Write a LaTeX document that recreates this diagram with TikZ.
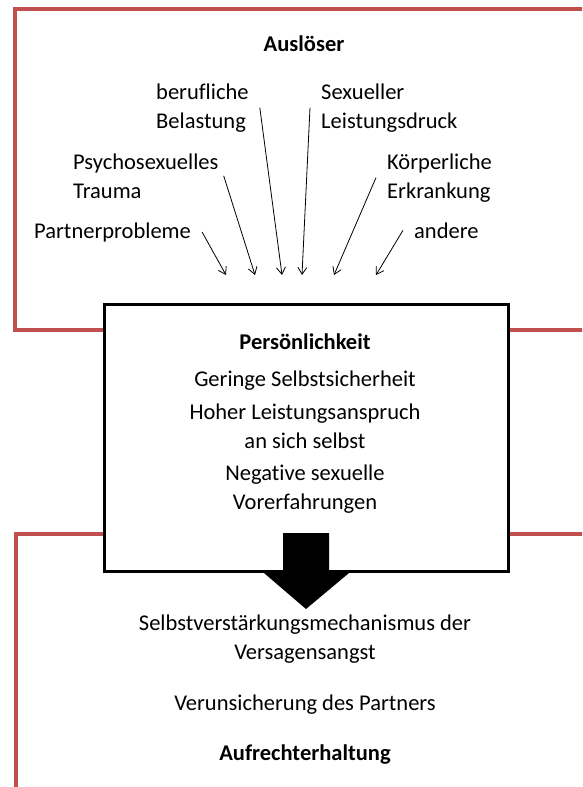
\documentclass[tikz,border=0pt]{standalone}
\usepackage{fontspec}
\setmainfont[Ligatures=NoCommon]{Carlito}
\usetikzlibrary{arrows.meta}
\definecolor{framered}{RGB}{192,80,77}

\begin{document}
\begin{tikzpicture}[x=1pt, y=-1pt,
    every node/.style = {font=\fontsize{22.5}{29}\selectfont},
    trigger/.style = {align=left, inner xsep=11pt, inner ysep=2pt},
    line/.style = {inner sep=0pt, align=center},
    title/.style = {inner sep=0pt, font=\fontsize{22.5}{29}\selectfont\bfseries},
    push/.style = {line width=0.8pt, -{Straight Barb[length=7pt,width=9pt]}},
    frame/.style = {draw=framered, line width=3.2pt}]
\useasboundingbox (0,0) rectangle (582,787);
\clip (0,0) rectangle (582,787);

% frames
\draw[frame] (600,9) -- (15,9) -- (15,330) -- (600,330);
\draw[frame] (600,534) -- (16,534) -- (16,800);

% Ausloeser
\node[title, anchor=base] (ausl) at (304,51) {Auslöser};
\node[trigger, anchor=base west] (beruf) at (145,128) {berufliche\\Belastung};
\node[trigger, anchor=base west] (sex) at (310,128) {Sexueller\\Leistungsdruck};
\node[trigger, anchor=base west] (psycho) at (62,198) {Psychosexuelles\\Trauma};
\node[trigger, anchor=base west] (koerper) at (376,198) {Körperliche\\Erkrankung};
\node[trigger, anchor=base west] (partner) at (23,238) {Partnerprobleme};
\node[trigger, anchor=base west] (andere) at (403,238) {andere};

\coordinate (t1) at (226,275);
\coordinate (t2) at (255,275);
\coordinate (t3) at (282,275);
\coordinate (t4) at (302,275);
\coordinate (t5) at (334,275);
\coordinate (t6) at (376,275);
\draw[push] (partner.east) -- (t1);
\draw[push] ([xshift=-6pt]psycho.east) -- (t2);
\draw[push] (beruf.east) -- (t3);
\draw[push] (sex.west) -- (t4);
\draw[push] (koerper.west) -- (t5);
\draw[push] (andere.west) -- (t6);

% Persoenlichkeit
\node[draw, line width=3pt, fill=white, inner sep=0pt,
      minimum width=404pt, minimum height=267pt] (pers) at (306,437.5) {};
\node[title, anchor=base] (perstitle) at (305,349) {Persönlichkeit};
\node[line, anchor=base] (sicher) at (305,386) {Geringe Selbstsicherheit};
\node[line, anchor=base] (anspruch) at (305,448) {Hoher Leistungsanspruch\\an sich selbst};
\node[line, anchor=base] (vorerf) at (305,509) {Negative sexuelle\\Vorerfahrungen};

\fill (283,533) -- (329,533) -- (329,573) -- (349,573) -- (306,609)
    -- (264,573) -- (283,573) -- cycle;

% Aufrechterhaltung
\node[line, anchor=base] (mech) at (305,659) {Selbstverstärkungsmechanismus der\\Versagensangst};
\node[line, anchor=base] (verun) at (305,710) {Verunsicherung des Partners};
\node[title, anchor=base] (aufr) at (305,760) {Aufrechterhaltung};
\end{tikzpicture}
\end{document}
